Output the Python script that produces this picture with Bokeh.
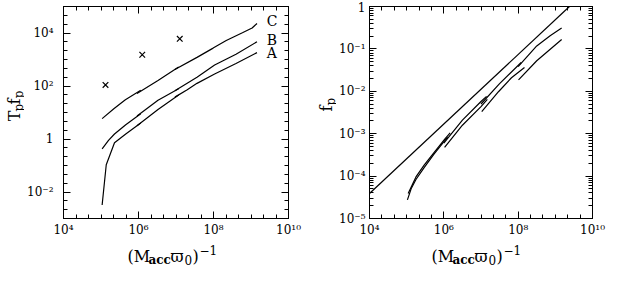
import numpy as np
from bokeh.plotting import figure
from bokeh.models import Range1d, LogAxis, FixedTicker
from bokeh.layouts import row, column
from bokeh.embed import file_html
from bokeh.resources import INLINE
from bokeh.core.properties import value

# ---------------- data (log10 values) ----------------
# Left panel: T_p f_p versus (M_acc varpi_0)^-1 ; models A, B, C in overlapping segments
A_LOGX = [[5.03, 5.14, 5.36, 5.66, 6.06], [5.96, 6.52, 7.07], [6.97, 7.30, 7.56, 8.03, 8.60, 9.16]]
A_LOGY = [[-2.49, -0.97, -0.14, 0.19, 0.60], [0.50, 1.11, 1.66], [1.58, 1.86, 2.10, 2.45, 2.85, 3.26]]
B_LOGX = [[5.03, 5.20, 5.36, 5.66, 6.06], [5.96, 6.52, 7.07], [6.97, 7.56, 8.03, 8.60, 9.16]]
B_LOGY = [[-0.37, -0.05, 0.19, 0.54, 0.95], [0.87, 1.46, 1.90], [1.82, 2.33, 2.79, 3.20, 3.67]]
C_LOGX = [[5.03, 5.35, 5.65, 6.06], [5.96, 6.52, 7.07], [6.97, 7.56, 7.99, 8.34, 8.77, 9.03, 9.16]]
C_LOGY = [[0.77, 1.15, 1.48, 1.84], [1.72, 2.21, 2.72], [2.62, 3.08, 3.43, 3.72, 4.01, 4.19, 4.36]]
CROSS_LOGX = [5.12, 6.10, 7.10]
CROSS_LOGY = [2.04, 3.18, 3.78]
MODEL_NAMES = ["C", "B", "A"]
NAME_LOGX = [9.42, 9.42, 9.42]
NAME_LOGY = [4.45, 3.72, 3.26]

# Right panel: f_p versus (M_acc varpi_0)^-1
LINE_LOGX = [4.0, 9.38]
LINE_LOGY = [-4.41, 0.0]
UP_LOGX = [[5.04, 5.25, 5.47, 5.73, 6.03, 6.17], [6.00, 6.50, 7.00, 7.15], [7.00, 7.50, 8.08], [8.00, 8.50, 8.86, 9.17]]
UP_LOGY = [[-4.41, -4.02, -3.74, -3.45, -3.12, -2.98], [-3.22, -2.68, -2.24, -2.12], [-2.30, -1.82, -1.32], [-1.42, -0.93, -0.69, -0.51]]
LO_LOGX = [[5.02, 5.12, 5.25, 5.47, 5.73, 6.03, 6.10], [6.02, 6.50, 7.00, 7.17], [7.02, 7.47, 7.82, 8.17], [8.01, 8.50, 9.17]]
LO_LOGY = [[-4.56, -4.30, -4.08, -3.80, -3.49, -3.16, -3.08], [-3.32, -2.80, -2.36, -2.19], [-2.48, -2.01, -1.68, -1.44], [-1.73, -1.28, -0.78]]

# tick labels
X_TICKS = [1e4, 1e6, 1e8, 1e10]
X_LABELS = ["10\u2074", "10\u2076", "10\u2078", "10\u00b9\u2070"]
LY_TICKS = [1e-2, 1.0, 1e2, 1e4]
LY_LABELS = ["10\u207b\u00b2", "1", "10\u00b2", "10\u2074"]
RY_TICKS = [1e-5, 1e-4, 1e-3, 1e-2, 1e-1, 1.0]
RY_LABELS = ["10\u207b\u2075", "10\u207b\u2074", "10\u207b\u00b3", "10\u207b\u00b2", "10\u207b\u00b9", "1"]

FONT = "DejaVu Serif"
TOP_H = 239
STRIP_H = 28

third_minor_x = [10 ** (k / 3) for k in range(12, 31)]
third_minor_ly = [10 ** (k / 3) for k in range(-9, 16)]
log_minor_ry = [m * 10.0 ** e for e in range(-5, 0) for m in range(2, 10)]


def style_axis(ax, ticks, minor, labels, show, standoff=8):
    ax.ticker = FixedTicker(ticks=ticks, minor_ticks=minor)
    ax.major_tick_in = 7
    ax.major_tick_out = 0
    ax.minor_tick_in = 4
    ax.minor_tick_out = 0
    ax.axis_line_color = "black"
    ax.major_tick_line_color = "black"
    ax.minor_tick_line_color = "black"
    ax.axis_line_width = 1
    ax.major_tick_line_width = 1
    ax.minor_tick_line_width = 1
    ax.major_label_overrides = {t: l for t, l in zip(ticks, labels)}
    ax.major_label_text_font = FONT
    if show:
        ax.major_label_text_font_size = "12px"
        ax.major_label_text_color = "black"
        ax.major_label_standoff = standoff
    else:
        ax.major_label_text_font_size = "1px"
        ax.major_label_text_alpha = 0.0
        ax.major_label_standoff = 0


def make_fig(width, yrange, yticks, yminor, ylabels, ystandoff, bl, br):
    p = figure(width=width, height=TOP_H, x_axis_type="log", y_axis_type="log",
               x_range=Range1d(1e4, 1e10), y_range=Range1d(*yrange),
               output_backend="svg", toolbar_location=None,
               min_border_left=bl, min_border_right=br, min_border_top=6, min_border_bottom=18)
    p.grid.visible = False
    p.outline_line_color = "black"
    p.background_fill_color = "white"
    p.border_fill_color = "white"
    style_axis(p.xaxis[0], X_TICKS, third_minor_x, X_LABELS, True, 4)
    style_axis(p.yaxis[0], yticks, yminor, ylabels, True, ystandoff)
    top = LogAxis()
    style_axis(top, X_TICKS, third_minor_x, X_LABELS, False)
    p.add_layout(top, "above")
    right = LogAxis()
    style_axis(right, yticks, yminor, ylabels, False)
    p.add_layout(right, "right")
    return p


def strip(width, height):
    s = figure(width=width, height=height, x_range=Range1d(0, width), y_range=Range1d(0, height),
               output_backend="svg", toolbar_location=None, min_border=0,
               x_axis_location=None, y_axis_location=None)
    s.grid.visible = False
    s.outline_line_color = None
    s.background_fill_color = "white"
    s.border_fill_color = "white"
    return s


def put(s, x, y, text, size, angle=0.0, bold=False):
    s.text(x=[x], y=[y], text=[text], angle=angle, text_font=value(FONT),
           text_font_size=value(f"{size}px"), text_font_style=value("bold" if bold else "normal"),
           text_align="left", text_baseline="alphabetic", text_color="black")


def add_xtitle(s, cx, yb):
    put(s, cx - 47, yb, "(M", 16)
    put(s, cx - 26, yb - 3, "acc", 12, bold=True)
    put(s, cx - 4, yb, "\u03d6", 16)
    put(s, cx + 10, yb - 3, "0", 12)
    put(s, cx + 18, yb, ")", 16)
    put(s, cx + 25, yb + 7, "\u22121", 12)


def seg_lines(p, logx_list, logy_list):
    xs = [list(10 ** np.array(a)) for a in logx_list]
    ys = [list(10 ** np.array(b)) for b in logy_list]
    p.multi_line(xs, ys, line_color="black", line_width=1.2)


ang = np.pi / 2
ymid = TOP_H - 6 - (TOP_H - 24) / 2  # vertical middle of the frames, in strip units

# ---------------- left panel ----------------
yl1 = strip(24, TOP_H)
put(yl1, 14, ymid - 16, "T", 16, angle=ang)
put(yl1, 18, ymid - 5, "p", 12, angle=ang)
put(yl1, 14, ymid + 3, "f", 16, angle=ang)
put(yl1, 18, ymid + 10, "p", 12, angle=ang)

p1 = make_fig(288, (1e-3, 1e5), LY_TICKS, third_minor_ly, LY_LABELS, 10, 36, 24)
for lx, ly in [(A_LOGX, A_LOGY), (B_LOGX, B_LOGY), (C_LOGX, C_LOGY)]:
    seg_lines(p1, lx, ly)
p1.scatter(10 ** np.array(CROSS_LOGX), 10 ** np.array(CROSS_LOGY), marker="x", size=8,
           line_color="black", line_width=1.2)
p1.text(x=10 ** np.array(NAME_LOGX), y=10 ** np.array(NAME_LOGY), text=MODEL_NAMES,
        text_font=value(FONT), text_font_size="14px", text_align="left",
        text_baseline="middle", text_color="black")

# ---------------- right panel ----------------
yl2 = strip(24, TOP_H)
put(yl2, 14, ymid - 5, "f", 16, angle=ang)
put(yl2, 18, ymid + 2, "p", 12, angle=ang)

p2 = make_fig(270, (1e-5, 1.0), RY_TICKS, log_minor_ry, RY_LABELS, 4, 28, 14)
p2.line(10 ** np.array(LINE_LOGX), 10 ** np.array(LINE_LOGY), line_color="black", line_width=1.2)
seg_lines(p2, UP_LOGX, UP_LOGY)
seg_lines(p2, LO_LOGX, LO_LOGY)

# ---------------- x titles ----------------
xs = strip(606, STRIP_H)
add_xtitle(xs, 174, 11)
add_xtitle(xs, 478, 11)

layout = column(row(yl1, p1, yl2, p2), xs)
open("out.html", "w").write(file_html(layout, INLINE))
